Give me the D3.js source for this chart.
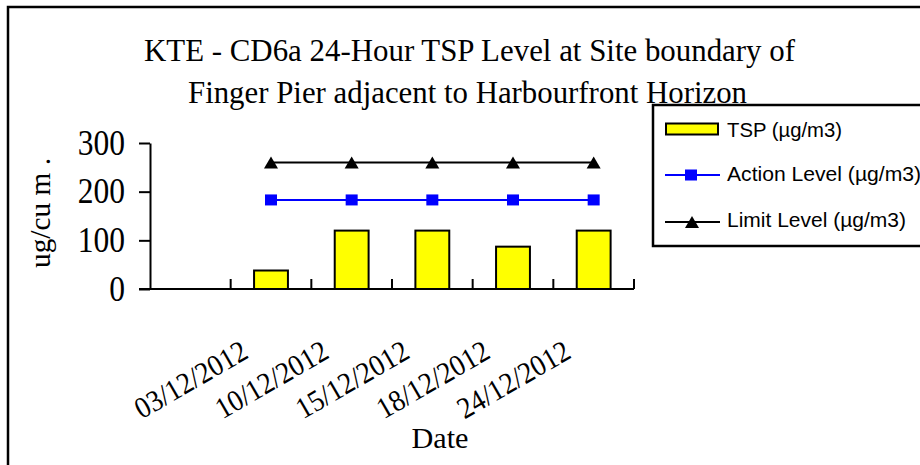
<!DOCTYPE html>
<html>
<head>
<meta charset="utf-8">
<script src="https://cdn.jsdelivr.net/npm/d3@7"></script>
<style>
  body { margin: 0; background: #fff; }
</style>
</head>
<body>
<svg id="chart" width="920" height="465"></svg>
<script>
var categories = ['', '03/12/2012', '10/12/2012', '15/12/2012', '18/12/2012', '24/12/2012'];
var tspValues = [null, 38, 120, 120, 87, 120];
var actionValues = [null, 183, 183, 183, 183, 183];
var limitValues = [null, 260, 260, 260, 260, 260];
var yTicks = [0, 100, 200, 300];
var titleLines = ['KTE - CD6a 24-Hour TSP Level at Site boundary of', 'Finger Pier adjacent to Harbourfront Horizon'];
var legendLabels = ['TSP (µg/m3)', 'Action Level (µg/m3)', 'Limit Level (µg/m3)'];

var serif = '"Liberation Serif", "DejaVu Serif", serif';
var sans = '"Liberation Sans", Arial, sans-serif';

var svg = d3.select('#chart');

// squeeze text horizontally, the source font is a narrow one
var squeeze = function (sel, ratio) {
  sel.each(function () {
    var w = this.getComputedTextLength();
    d3.select(this).attr('textLength', w * ratio).attr('lengthAdjust', 'spacingAndGlyphs');
  });
};

// outer frame (runs off the right and bottom edge)
svg.append('rect')
  .attr('x', 8).attr('y', 7)
  .attr('width', 950).attr('height', 500)
  .attr('fill', '#fff')
  .attr('stroke', '#000')
  .attr('stroke-width', 2.5);

var x = d3.scaleBand().domain(categories).range([150, 634]);
var y = d3.scaleLinear().domain([0, 300]).range([289, 143]);
var bw = x.bandwidth();
var cx = function (i) { return x(categories[i]) + bw / 2; };

// title
svg.append('text')
  .attr('x', 144).attr('y', 60.5)
  .attr('font-family', serif).attr('font-size', 32)
  .attr('textLength', 651).attr('lengthAdjust', 'spacingAndGlyphs')
  .text(titleLines[0]);
svg.append('text')
  .attr('x', 188).attr('y', 103)
  .attr('font-family', serif).attr('font-size', 32)
  .attr('textLength', 559).attr('lengthAdjust', 'spacingAndGlyphs')
  .text(titleLines[1]);

// y axis
var yAxis = svg.append('g')
  .attr('transform', 'translate(150,0)')
  .call(d3.axisLeft(y).tickValues(yTicks).tickSize(11).tickSizeOuter(0).tickPadding(14));
yAxis.select('.domain').attr('stroke', '#000').attr('stroke-width', 2);
yAxis.selectAll('.tick line').attr('stroke', '#000').attr('stroke-width', 2);
yAxis.selectAll('.tick text')
  .attr('font-family', serif).attr('font-size', 35).attr('fill', '#000')
  .call(squeeze, 0.9);

svg.append('text')
  .attr('transform', 'translate(50,213) rotate(-90)')
  .attr('text-anchor', 'middle')
  .attr('font-family', serif).attr('font-size', 30)
  .attr('textLength', 110).attr('lengthAdjust', 'spacingAndGlyphs')
  .text('ug/cu m .');

// bars
var barW = bw * 0.42;
var bars = svg.append('g');
tspValues.forEach(function (v, i) {
  if (v == null) return;
  bars.append('rect')
    .attr('x', cx(i) - barW / 2)
    .attr('y', y(v))
    .attr('width', barW)
    .attr('height', y(0) - y(v))
    .attr('fill', '#ffff00')
    .attr('stroke', '#000')
    .attr('stroke-width', 2);
});

// x axis, ticks point up between categories
svg.append('line')
  .attr('x1', 139).attr('x2', 634)
  .attr('y1', y(0)).attr('y2', y(0))
  .attr('stroke', '#000').attr('stroke-width', 2);
svg.append('g').selectAll('line')
  .data(categories)
  .join('line')
  .attr('x1', function (d) { return x(d) + bw; })
  .attr('x2', function (d) { return x(d) + bw; })
  .attr('y1', y(0)).attr('y2', y(0) - 10)
  .attr('stroke', '#000').attr('stroke-width', 2);

svg.append('g').selectAll('text')
  .data(categories.filter(function (c) { return c !== ''; }))
  .join('text')
  .attr('transform', function (d) { return 'translate(' + (x(d) + bw / 2 - 21) + ',357) rotate(-30)'; })
  .attr('text-anchor', 'end')
  .attr('font-family', serif).attr('font-size', 30)
  .attr('textLength', 125).attr('lengthAdjust', 'spacingAndGlyphs')
  .text(function (d) { return d; });

svg.append('text')
  .attr('x', 440).attr('y', 448)
  .attr('text-anchor', 'middle')
  .attr('font-family', serif).attr('font-size', 30)
  .attr('textLength', 57).attr('lengthAdjust', 'spacingAndGlyphs')
  .text('Date');

// lines + markers
var line = d3.line()
  .defined(function (d) { return d != null; })
  .x(function (d, i) { return cx(i); })
  .y(function (d) { return y(d); });

svg.append('path').datum(limitValues)
  .attr('d', line).attr('fill', 'none')
  .attr('stroke', '#000').attr('stroke-width', 2);
svg.append('path').datum(actionValues)
  .attr('d', line).attr('fill', 'none')
  .attr('stroke', '#0000ff').attr('stroke-width', 2);

var tri = d3.symbol().type(d3.symbolTriangle).size(85);
limitValues.forEach(function (v, i) {
  if (v == null) return;
  svg.append('path')
    .attr('d', tri)
    .attr('transform', 'translate(' + cx(i) + ',' + (y(v) + 2) + ')')
    .attr('fill', '#000');
});
actionValues.forEach(function (v, i) {
  if (v == null) return;
  svg.append('rect')
    .attr('x', cx(i) - 6).attr('y', y(v) - 5.5)
    .attr('width', 12).attr('height', 11)
    .attr('fill', '#0000ff');
});

// legend
var lg = svg.append('g');
lg.append('rect')
  .attr('x', 653).attr('y', 105)
  .attr('width', 300).attr('height', 141)
  .attr('fill', '#fff').attr('stroke', '#000').attr('stroke-width', 2.5);

lg.append('rect')
  .attr('x', 666).attr('y', 123.5).attr('width', 52).attr('height', 11)
  .attr('fill', '#ffff00').attr('stroke', '#000').attr('stroke-width', 2);

lg.append('line')
  .attr('x1', 665).attr('x2', 720).attr('y1', 175).attr('y2', 175)
  .attr('stroke', '#0000ff').attr('stroke-width', 2);
lg.append('rect')
  .attr('x', 685).attr('y', 169.5).attr('width', 12).attr('height', 11)
  .attr('fill', '#0000ff');

lg.append('line')
  .attr('x1', 665).attr('x2', 720).attr('y1', 222).attr('y2', 222)
  .attr('stroke', '#000').attr('stroke-width', 2);
lg.append('path')
  .attr('d', tri)
  .attr('transform', 'translate(692,224)')
  .attr('fill', '#000');

var legendY = [136.5, 181, 227];
var legendLen = [115, 194, 179];
lg.selectAll('text.lbl')
  .data(legendLabels)
  .join('text')
  .attr('class', 'lbl')
  .attr('x', 727)
  .attr('y', function (d, i) { return legendY[i]; })
  .attr('font-family', sans).attr('font-size', 20)
  .attr('textLength', function (d, i) { return legendLen[i]; })
  .attr('lengthAdjust', 'spacingAndGlyphs')
  .text(function (d) { return d; });
</script>
</body>
</html>
